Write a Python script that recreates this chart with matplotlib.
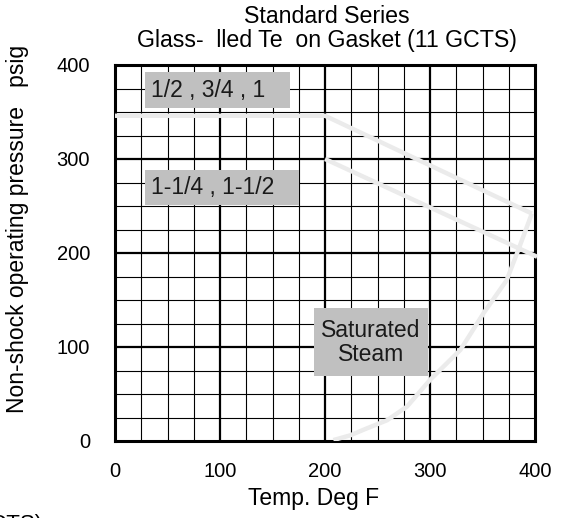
import matplotlib
matplotlib.use('Agg')
import matplotlib.pyplot as plt
from matplotlib.patches import Rectangle
import numpy as np

plt.rcParams['font.family'] = ['Liberation Sans', 'DejaVu Sans']

# pressure curves (deg F, psig)
small_temp = [0, 200, 397]
small_press = [346, 346, 242]

large_temp = [200, 402]
large_press = [300, 196]

steam_temp = [208, 224, 240, 259, 278, 300, 329, 351, 373, 384, 397]
steam_press = [1, 6, 13.5, 22, 36.5, 65, 97, 136, 171, 203, 242]

xticks = [0, 100, 200, 300, 400]
yticks = [0, 100, 200, 300, 400]

# label boxes: (x0, y0, x1, y1), text
boxes = [
    ((28.6, 354, 166.7, 392.5), '1/2 , 3/4 , 1', 'left'),
    ((28.6, 251, 175, 288), '1-1/4 , 1-1/2', 'left'),
    ((189.5, 69, 298, 141.5), 'Saturated\nSteam', 'center'),
]

fig = plt.figure(figsize=(5.66, 5.18), dpi=100)
ax = fig.add_axes([115 / 566, 1 - 441 / 518, 420 / 566, 376 / 518])
ax.set_xlim(0, 400)
ax.set_ylim(0, 400)

# grid
for v in np.arange(25, 400, 25):
    lw = 1.6 if v % 100 == 0 else 0.8
    ax.axvline(v, color='black', lw=lw, zorder=1)
    ax.axhline(v, color='black', lw=lw, zorder=1)

curve = dict(color='#ebebeb', lw=3.2, zorder=3, solid_capstyle='butt')
ax.plot(small_temp, small_press, **curve)
ax.plot(large_temp, large_press, clip_on=False, **curve)
ax.plot(steam_temp, steam_press, **curve)

for (x0, y0, x1, y1), txt, ha in boxes:
    ax.add_patch(Rectangle((x0, y0), x1 - x0, y1 - y0, facecolor='#c0c0c0',
                           edgecolor='none', zorder=4))
    tx = x0 + 6 if ha == 'left' else (x0 + x1) / 2
    ax.text(tx, (y0 + y1) / 2, txt, ha=ha, va='center', fontsize=16.5,
            color='#1a1a1a', zorder=5, linespacing=1.05)

for s in ax.spines.values():
    s.set_linewidth(2.2)
ax.set_xticks(xticks)
ax.set_yticks(yticks)
ax.tick_params(length=0, labelsize=14.5, pad=15)
ax.tick_params(axis='y', pad=18)

fig.text(327 / 566, 1 - 23 / 518, 'Standard Series', ha='center', va='baseline', fontsize=16.7)
fig.text(327 / 566, 1 - 47 / 518, 'Glass-  lled Te  on Gasket (11 GCTS)',
         ha='center', va='baseline', fontsize=16.7)
fig.text(314 / 566, 1 - 498 / 518, 'Temp. Deg F', ha='center', va='center', fontsize=16.5)
fig.text(18 / 566, 1 - 229 / 518, 'Non-shock operating pressure   psig',
         ha='center', va='center', rotation=90, fontsize=16.5)
fig.text(43 / 566, 1 - 514 / 518, 'GCTS)', ha='right', va='top', fontsize=16)

fig.savefig('out.png', dpi=100)
